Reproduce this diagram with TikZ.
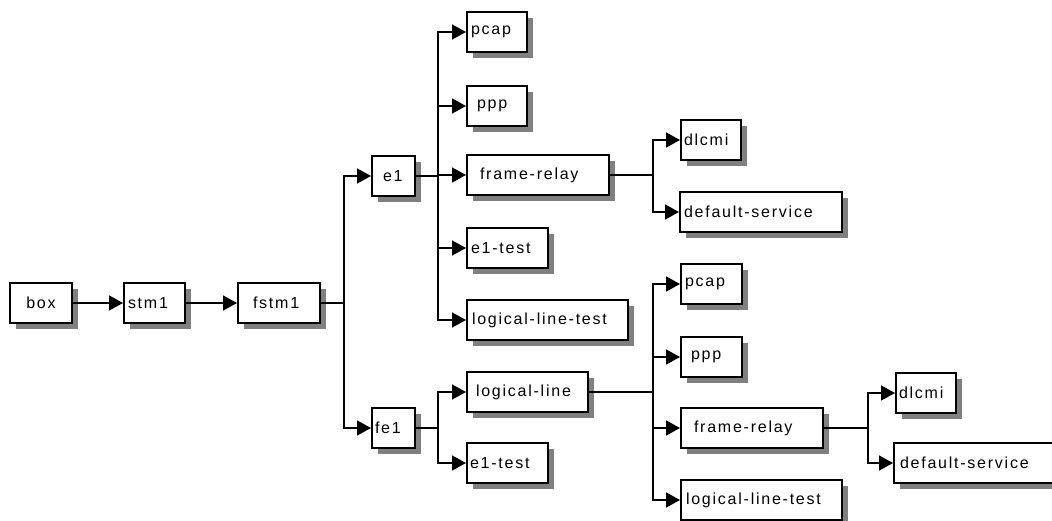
\documentclass[tikz,border=0pt]{standalone}
\usepackage{fontspec}
\usetikzlibrary{arrows.meta,shadows}
\newfontfamily\lblfont[LetterSpace=11]{Liberation Sans}

\tikzset{
  bx/.style={draw, line width=2pt, fill=white, anchor=north west,
    minimum height=40pt, inner ysep=0pt, align=left,
    font={\lblfont\fontsize{16}{18}\selectfont},
    drop shadow={shadow xshift=6pt, shadow yshift=-6pt, fill=black!50, opacity=1}},
  conn/.style={line width=1.6pt},
  arr/.style={line width=1.6pt, -{Triangle[length=14pt,width=15pt]}}
}

\begin{document}
\begin{tikzpicture}[x=1pt,y=-1pt]
\useasboundingbox (0,0) rectangle (1052,521);
\clip (0,0) rectangle (1052,521);

% main chain
\node[bx, text width=46pt, inner xsep=8pt] (box) at (9,282) {\hfil box};
\node[bx, text width=53pt, inner xsep=4pt] (stm1) at (123,282) {stm1};
\node[bx, text width=68pt, inner xsep=7pt] (fstm1) at (237,282) {\hspace*{8pt}fstm1};

% fstm1 branches
\node[bx, text width=33pt, inner xsep=5pt] (e1) at (371,155) {\hspace*{6pt}e1};
\node[bx, text width=37pt, inner xsep=3pt] (fe1) at (371,407) {fe1};

% e1 branches
\node[bx, text width=52pt, inner xsep=4pt] (pcap1) at (466,11) {pcap};
\node[bx, text width=46pt, inner xsep=7pt] (ppp1) at (466,85) {\hspace*{3pt}ppp};
\node[bx, text width=128pt, inner xsep=7pt] (fr1) at (466,154) {\hspace*{6pt}frame-relay};
\node[bx, text width=73pt, inner xsep=4pt] (et1) at (466,227) {e1-test};
\node[bx, text width=151pt, inner xsep=5pt] (llt1) at (466,299) {logical-line-test};

% frame-relay (upper) branches
\node[bx, text width=54pt, inner xsep=3pt] (dl1) at (680,119) {dlcmi};
\node[bx, text width=154pt, inner xsep=4pt] (ds1) at (679,191) {default-service};

% fe1 branches
\node[bx, text width=107pt, inner xsep=7pt] (ll) at (466,371) {\hspace*{2pt}logical-line};
\node[bx, text width=75pt, inner xsep=3pt] (et2) at (466,442) {e1-test};

% logical-line branches
\node[bx, text width=53pt, inner xsep=4pt] (pcap2) at (680,263) {pcap};
\node[bx, text width=47pt, inner xsep=7pt] (ppp2) at (680,336) {\hspace*{3pt}ppp};
\node[bx, text width=128pt, inner xsep=7pt] (fr2) at (680,407) {\hspace*{6pt}frame-relay};
\node[bx, text width=151pt, inner xsep=5pt] (llt2) at (680,479) {logical-line-test};

% frame-relay (lower) branches
\node[bx, text width=54pt, inner xsep=3pt] (dl2) at (895,372) {dlcmi};
\node[bx, text width=162pt, inner xsep=6pt] (ds2) at (893,442) {default-service};

% connectors
\draw[arr] (box) -- (stm1);
\draw[arr] (stm1) -- (fstm1);

\draw[conn] (fstm1.east) -- ++(23,0) coordinate (j0);
\draw[arr] (j0) |- (e1.west);
\draw[arr] (j0) |- (fe1.west);

\draw[conn] (e1.east) -- ++(22,0) coordinate (j1);
\foreach \c in {pcap1,ppp1,fr1,et1,llt1} \draw[arr] (j1) |- (\c.west);

\draw[conn] (fr1.east) -- ++(43,0) coordinate (j2);
\foreach \c in {dl1,ds1} \draw[arr] (j2) |- (\c.west);

\draw[conn] (fe1.east) -- ++(22,0) coordinate (j3);
\foreach \c in {ll,et2} \draw[arr] (j3) |- (\c.west);

\draw[conn] (ll.east) -- ++(64,0) coordinate (j4);
\foreach \c in {pcap2,ppp2,fr2,llt2} \draw[arr] (j4) |- (\c.west);

\draw[conn] (fr2.east) -- ++(44,0) coordinate (j5);
\foreach \c in {dl2,ds2} \draw[arr] (j5) |- (\c.west);
\end{tikzpicture}
\end{document}
